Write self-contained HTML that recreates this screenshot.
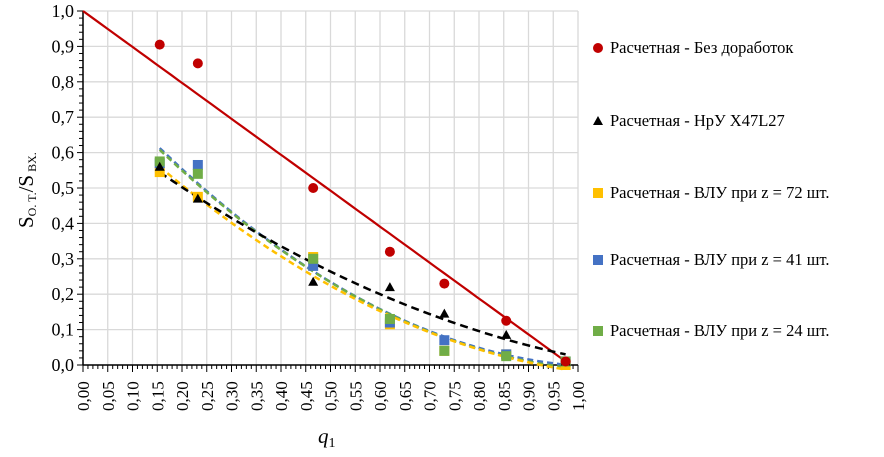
<!DOCTYPE html>
<html><head><meta charset="utf-8"><style>
body{margin:0;background:#fff;}
svg, svg text{font-family:"Liberation Serif","Times New Roman",serif;}
</style></head><body>
<svg id="chart" width="884" height="452" font-family="Liberation Serif, serif"></svg>
<script>
const xCats=[0.155,0.232,0.465,0.62,0.73,0.855,0.975];
const redVals=[0.905,0.852,0.50,0.32,0.23,0.125,0.01];
const blackVals=[0.56,0.47,0.235,0.22,0.145,0.085,0.01];
const yellowVals=[0.545,0.475,0.305,0.115,0.04,0.03,0.0];
const blueVals=[0.57,0.565,0.28,0.12,0.07,0.03,0.01];
const greenVals=[0.575,0.54,0.30,0.13,0.04,0.025,0.01];
const xTicks=["0,00","0,05","0,10","0,15","0,20","0,25","0,30","0,35","0,40","0,45","0,50","0,55","0,60","0,65","0,70","0,75","0,80","0,85","0,90","0,95","1,00"];
const yTicks=["0,0","0,1","0,2","0,3","0,4","0,5","0,6","0,7","0,8","0,9","1,0"];
const legendLabels=["Расчетная - Без доработок","Расчетная - НрУ X47L27","Расчетная - ВЛУ при z = 72 шт.","Расчетная - ВЛУ при z = 41 шт.","Расчетная - ВЛУ при z = 24 шт."];

const NS="http://www.w3.org/2000/svg";
const svg=document.getElementById('chart');
const X0=83,X1=578,Y0=365,Y1=11;
const sx=v=>X0+(X1-X0)*v, sy=v=>Y0-(Y0-Y1)*v;
function mk(tag,attrs,parent){const e=document.createElementNS(NS,tag);for(const k in attrs)e.setAttribute(k,attrs[k]);if(tag==='text')e.setAttribute('font-family','Liberation Serif, serif');(parent||svg).appendChild(e);return e;}
for(let i=0;i<xTicks.length;i++){const g=mk('line',{x1:sx(i*0.05),x2:sx(i*0.05),y1:Y1,y2:Y0,stroke:'#d9d9d9','stroke-width':1.3});

}
for(let i=0;i<yTicks.length;i++){const g=mk('line',{x1:X0,x2:X1,y1:sy(i*0.1),y2:sy(i*0.1),stroke:'#d9d9d9','stroke-width':1.3});

}
const ax=mk('line',{x1:X0,x2:X1,y1:Y0,y2:Y0,stroke:'#000','stroke-width':1.5});


const ay=mk('line',{x1:X0,x2:X0,y1:Y1,y2:Y0,stroke:'#000','stroke-width':1.5});


for(let i=0;i<=100;i++){const big=i%5==0;mk('line',{x1:sx(i/100),x2:sx(i/100),y1:Y0,y2:Y0+(big?7:4),stroke:'#000','stroke-width':1});}
for(let i=0;i<=50;i++){const big=i%5==0;mk('line',{x1:X0-(big?6:4),x2:X0,y1:sy(i/50),y2:sy(i/50),stroke:'#000','stroke-width':1});}
xTicks.forEach((t,i)=>{const x=sx(i*0.05);const e=mk('text',{x:0,y:0,transform:`translate(${x+6},${Y0+46}) rotate(-90)`,'font-size':17});e.textContent=t;

});
yTicks.forEach((t,i)=>{const e=mk('text',{x:X0-9,y:sy(i*0.1)+6,'text-anchor':'end','font-size':18});e.textContent=t;

});
const yt=mk('text',{transform:'translate(33,228) rotate(-90)','font-size':21});
yt.innerHTML='S<tspan font-size="12" dy="3">O. T.</tspan><tspan dy="-3">/S</tspan><tspan font-size="12" dy="3"> BX.</tspan>';


const xt=mk('text',{x:318,y:443,'font-size':21,'font-style':'italic'});
xt.innerHTML='q<tspan font-size="14" dy="4" font-style="normal">1</tspan>';


function fit(xs,ys){let S=[0,0,0,0,0],T=[0,0,0];xs.forEach((x,i)=>{for(let k=0;k<5;k++)S[k]+=x**k;for(let k=0;k<3;k++)T[k]+=ys[i]*x**k;});
const A=[[S[0],S[1],S[2],T[0]],[S[1],S[2],S[3],T[1]],[S[2],S[3],S[4],T[2]]];
for(let i=0;i<3;i++){for(let j=i+1;j<3;j++){const f=A[j][i]/A[i][i];for(let k=i;k<4;k++)A[j][k]-=f*A[i][k];}}
const c=[0,0,0];for(let i=2;i>=0;i--){let s=A[i][3];for(let k=i+1;k<3;k++)s-=A[i][k]*c[k];c[i]=s/A[i][i];}return x=>c[0]+c[1]*x+c[2]*x*x;}
function trend(f,x0,x1,color,dash,name,w){let d='';for(let i=0;i<=60;i++){const x=x0+(x1-x0)*i/60;d+=(i?'L':'M')+sx(x).toFixed(1)+','+sy(f(x)).toFixed(1);}
const p=mk('path',{d,fill:'none',stroke:color,'stroke-width':w||2.5,'stroke-dasharray':dash||''});

}
trend(x=>Math.max(0,1-x/0.985),0,0.975,'#c00000','','trendline-red',2.2);
trend(fit(xCats,blueVals),xCats[0],xCats[6],'#4472c4','6 4','trendline-blue');
trend(fit(xCats,greenVals),xCats[0],xCats[6],'#70ad47','6 4','trendline-green');
trend(fit(xCats,yellowVals),xCats[0],xCats[6],'#ffc000','6 4','trendline-yellow');
trend(fit(xCats,blackVals),xCats[0],xCats[6],'#000','8 5','trendline-black');
function sq(vals,color,name){vals.forEach((v,i)=>{const r=mk('rect',{x:sx(xCats[i])-5,y:sy(v)-5,width:10,height:10,fill:color});

});}
sq(yellowVals,'#ffc000','point-z72');
sq(blueVals,'#4472c4','point-z41');
sq(greenVals,'#70ad47','point-z24');
blackVals.forEach((v,i)=>{const x=sx(xCats[i]),y=sy(v);const t=mk('polygon',{points:`${x-5},${y+4} ${x+5},${y+4} ${x},${y-5}`,fill:'#000'});

});
redVals.forEach((v,i)=>{const c=mk('circle',{cx:sx(xCats[i]),cy:sy(v),r:5,fill:'#c00000'});

});
const ly=[48,121,193,260,331];
const lc=['#c00000','#000','#ffc000','#4472c4','#70ad47'];
legendLabels.forEach((t,i)=>{const g=mk('g',{});


const x=598,y=ly[i];
if(i==0)mk('circle',{cx:x,cy:y,r:5,fill:lc[i]},g);
else if(i==1)mk('polygon',{points:`${x-5},${y+4} ${x+5},${y+4} ${x},${y-5}`,fill:lc[i]},g);
else mk('rect',{x:x-5,y:y-5,width:10,height:10,fill:lc[i]},g);
const tx=mk('text',{x:610,y:y+5,'font-size':16.5},g);tx.textContent=t;});
</script>
</body></html>
